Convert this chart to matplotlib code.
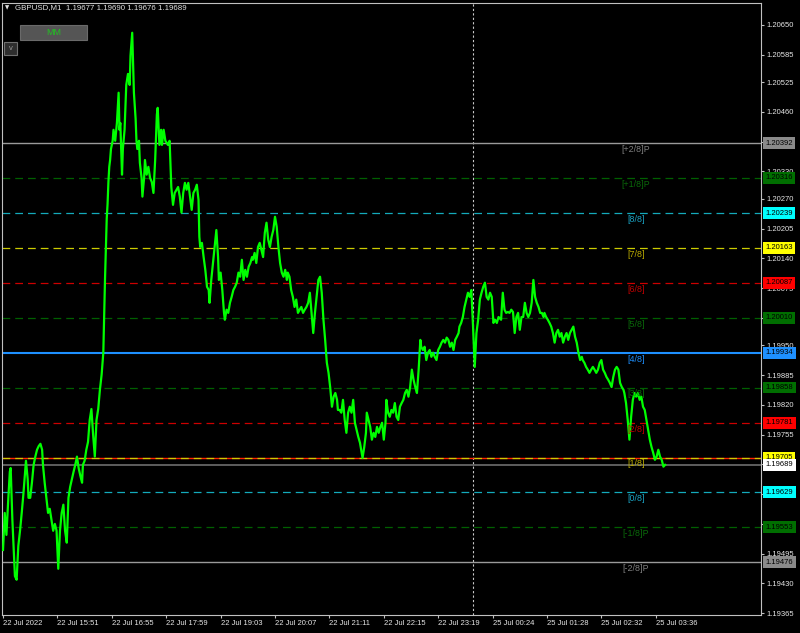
import matplotlib
matplotlib.use('Agg')
import matplotlib.pyplot as plt
from matplotlib.patches import Rectangle

plt.rcParams['font.family'] = ['Liberation Sans', 'DejaVu Sans']

# bar index (minutes since 22 Jul 14:47, weekend gap removed) and price
bar_min = [
    0, 1, 2, 4, 6, 8, 9, 11, 13, 14,
    16, 18, 20, 22, 24, 26, 27, 29, 30, 32,
    34, 36, 38, 40, 42, 44, 46, 47, 49, 51,
    53, 55, 57, 59, 61, 63, 65, 67, 69, 71,
    73, 75, 77, 79, 81, 83, 85, 87, 89, 91,
    93, 94, 96, 98, 100, 102, 104, 106, 108, 110,
    112, 114, 116, 118, 119, 120, 121, 122, 123, 124,
    125, 126, 127, 129, 130, 132, 134, 136, 137, 138,
    140, 141, 143, 145, 147, 149, 150, 152, 153, 154,
    156, 157, 158, 160, 161, 163, 164, 166, 167, 169,
    171, 173, 175, 177, 179, 181, 182, 184, 186, 187,
    189, 191, 194, 196, 198, 200, 202, 206, 208, 210,
    212, 214, 216, 218, 220, 222, 224, 226, 228, 230,
    231, 232, 234, 236, 238, 240, 242, 243, 245, 247,
    249, 251, 253, 254, 256, 258, 260, 261, 263, 265,
    267, 269, 271, 273, 275, 277, 279, 281, 283, 285,
    287, 289, 291, 293, 294, 296, 298, 300, 302, 304,
    306, 308, 310, 312, 314, 316, 318, 320, 322, 324,
    326, 328, 330, 332, 334, 335, 337, 339, 341, 343,
    345, 347, 349, 351, 353, 355, 357, 359, 361, 363,
    365, 367, 369, 371, 373, 375, 377, 379, 381, 383,
    385, 387, 389, 391, 393, 394, 396, 398, 400, 402,
    404, 406, 408, 410, 412, 414, 416, 418, 420, 422,
    423, 425, 427, 428, 430, 432, 434, 436, 438, 440,
    442, 444, 446, 448, 450, 451, 453, 455, 457, 459,
    461, 463, 465, 467, 469, 471, 473, 475, 477, 479,
    481, 483, 485, 487, 489, 491, 492, 494, 496, 498,
    500, 502, 504, 506, 508, 510, 512, 514, 516, 518,
    520, 522, 524, 526, 528, 530, 532, 534, 536, 537,
    539, 541, 543, 545, 547, 549, 551, 553, 555, 557,
    559, 561, 563, 565, 567, 569, 571, 573, 575, 577,
    579, 581, 583, 584, 586, 588, 590, 592, 594, 596,
    598, 600, 602, 604, 606, 608, 610, 612, 614, 616,
    618, 620, 622, 624, 626, 628, 630, 632, 634, 636,
    637, 639, 641, 643, 645, 647, 649, 651, 653, 655,
    657, 659, 661, 663, 665, 667, 669, 671, 673, 675,
    677, 679, 681, 682, 684, 686, 688, 690, 692, 694,
    696, 698, 700, 702, 704, 706, 708, 710, 712, 714,
    716, 718, 720, 722, 724, 726, 728, 730, 731, 733,
    735, 737, 739, 741, 743, 745, 747, 749, 751, 753,
    755, 757, 759, 761, 763, 765, 767, 769, 771, 773,
    775, 777, 779,
]
price = [
    1.19503, 1.19545, 1.19584, 1.19536, 1.19608, 1.19674, 1.19682, 1.19569, 1.19488, 1.19446,
    1.19438, 1.19512, 1.19545, 1.19584, 1.19626, 1.19674, 1.19698, 1.19658, 1.19617, 1.19617,
    1.19650, 1.19689, 1.19707, 1.19722, 1.19730, 1.19735, 1.19722, 1.19689, 1.19650, 1.19617,
    1.19584, 1.19593, 1.19569, 1.19545, 1.19560, 1.19545, 1.19462, 1.19545, 1.19584, 1.19602,
    1.19545, 1.19519, 1.19617, 1.19641, 1.19658, 1.19674, 1.19689, 1.19707, 1.19682, 1.19665,
    1.19650, 1.19689, 1.19698, 1.19722, 1.19739, 1.19787, 1.19811, 1.19755, 1.19707, 1.19787,
    1.19811, 1.19853, 1.19886, 1.19934, 1.20015, 1.20095, 1.20161, 1.20226, 1.20259, 1.20307,
    1.20340, 1.20355, 1.20379, 1.20397, 1.20421, 1.20397, 1.20436, 1.20502, 1.20421, 1.20436,
    1.20323, 1.20379, 1.20421, 1.20519, 1.20543, 1.20519, 1.20583, 1.20633, 1.20567, 1.20502,
    1.20445, 1.20397, 1.20379, 1.20397, 1.20349, 1.20316, 1.20275, 1.20316, 1.20355, 1.20323,
    1.20340, 1.20316, 1.20307, 1.20283, 1.20355, 1.20454, 1.20469, 1.20388, 1.20421, 1.20388,
    1.20421, 1.20397, 1.20388, 1.20397, 1.20296, 1.20257, 1.20283, 1.20296, 1.20275, 1.20240,
    1.20283, 1.20305, 1.20290, 1.20305, 1.20275, 1.20246, 1.20283, 1.20290, 1.20301, 1.20268,
    1.20187, 1.20165, 1.20174, 1.20143, 1.20115, 1.20078, 1.20071, 1.20043, 1.20093, 1.20130,
    1.20165, 1.20202, 1.20143, 1.20093, 1.20109, 1.20071, 1.20021, 1.20006, 1.20028, 1.20021,
    1.20043, 1.20056, 1.20071, 1.20078, 1.20087, 1.20109, 1.20100, 1.20137, 1.20093, 1.20115,
    1.20100, 1.20122, 1.20130, 1.20143, 1.20137, 1.20152, 1.20130, 1.20165, 1.20174, 1.20159,
    1.20143, 1.20196, 1.20218, 1.20181, 1.20165, 1.20187, 1.20202, 1.20231, 1.20209, 1.20165,
    1.20130, 1.20109, 1.20100, 1.20115, 1.20093, 1.20109, 1.20100, 1.20071, 1.20056, 1.20034,
    1.20050, 1.20021, 1.20028, 1.20034, 1.20021, 1.20028, 1.20034, 1.20043, 1.20065, 1.20021,
    1.19977, 1.20021, 1.20056, 1.20093, 1.20100, 1.20065, 1.20006, 1.19962, 1.19912, 1.19890,
    1.19857, 1.19816, 1.19838, 1.19846, 1.19831, 1.19809, 1.19809, 1.19803, 1.19831, 1.19787,
    1.19759, 1.19803, 1.19816, 1.19803, 1.19831, 1.19781, 1.19765, 1.19750, 1.19737, 1.19715,
    1.19704, 1.19728, 1.19759, 1.19803, 1.19787, 1.19772, 1.19744, 1.19759, 1.19750, 1.19772,
    1.19759, 1.19772, 1.19781, 1.19744, 1.19781, 1.19831, 1.19803, 1.19794, 1.19809, 1.19803,
    1.19824, 1.19794, 1.19787, 1.19816, 1.19824, 1.19831, 1.19846, 1.19853, 1.19838, 1.19859,
    1.19897, 1.19875, 1.19859, 1.19846, 1.19897, 1.19962, 1.19947, 1.19940, 1.19947, 1.19918,
    1.19934, 1.19940, 1.19925, 1.19934, 1.19925, 1.19918, 1.19940, 1.19947, 1.19956, 1.19962,
    1.19956, 1.19967, 1.19962, 1.19947, 1.19956, 1.19940, 1.19962, 1.19969, 1.19977, 1.19991,
    1.19999, 1.20012, 1.20034, 1.20050, 1.20065, 1.20056, 1.20071, 1.19991, 1.19903, 1.19977,
    1.20006, 1.20050, 1.20065, 1.20078, 1.20087, 1.20056, 1.20050, 1.20065, 1.20056, 1.19999,
    1.20006, 1.19999, 1.20012, 1.20010, 1.20006, 1.20065, 1.20028, 1.20021, 1.20023, 1.20021,
    1.20028, 1.20023, 1.19977, 1.20012, 1.20021, 1.19984, 1.20012, 1.20012, 1.20043, 1.20021,
    1.20012, 1.20021, 1.20043, 1.20093, 1.20056, 1.20043, 1.20034, 1.20021, 1.20021, 1.20012,
    1.20021, 1.20012, 1.20006, 1.19999, 1.19991, 1.19977, 1.19956, 1.19977, 1.19984, 1.19969,
    1.19977, 1.19956, 1.19969, 1.19977, 1.19962, 1.19977, 1.19984, 1.19991, 1.19969, 1.19956,
    1.19934, 1.19918, 1.19925, 1.19918, 1.19912, 1.19903, 1.19897, 1.19890, 1.19897, 1.19903,
    1.19897, 1.19890, 1.19897, 1.19912, 1.19918, 1.19897, 1.19890, 1.19881, 1.19875, 1.19868,
    1.19859, 1.19881, 1.19897, 1.19903, 1.19897, 1.19868, 1.19859, 1.19853, 1.19846, 1.19824,
    1.19787, 1.19744, 1.19794, 1.19831, 1.19846, 1.19838, 1.19846, 1.19831, 1.19838, 1.19816,
    1.19809, 1.19787, 1.19765, 1.19744, 1.19728, 1.19715, 1.19700, 1.19707, 1.19722, 1.19707,
    1.19700, 1.19685, 1.19689,
]

# Murrey math levels
levels = [1.20392, 1.20316, 1.20239, 1.20163, 1.20087, 1.20010, 1.19934,
          1.19858, 1.19781, 1.19705, 1.19629, 1.19553, 1.19476]
level_names = ['[+2/8]P', '[+1/8]P', '[8/8]', '[7/8]', '[6/8]', '[5/8]', '[4/8]',
               '[3/8]', '[2/8]', '[1/8]', '[0/8]', '[-1/8]P', '[-2/8]P']
level_kind = ['gray', 'green', 'cyan', 'yellow', 'red', 'green', 'blue',
              'green', 'red', 'yellow', 'cyan', 'green', 'gray']
bid = 1.19689
ask = 1.19705

y_ticks = [1.20650, 1.20585, 1.20525, 1.20460, 1.20395, 1.20330, 1.20270, 1.20205,
           1.20140, 1.20075, 1.20010, 1.19950, 1.19885, 1.19820, 1.19755, 1.19690,
           1.19625, 1.19560, 1.19495, 1.19430, 1.19365]
# tick labels fully covered by the level price boxes
y_hidden = [1.20395, 1.20010, 1.19690, 1.19625, 1.19560]
x_ticks = [0, 64, 128, 192, 256, 320, 384, 448, 512, 576, 640, 704, 768]
x_labels = ['22 Jul 2022', '22 Jul 15:51', '22 Jul 16:55', '22 Jul 17:59', '22 Jul 19:03',
            '22 Jul 20:07', '22 Jul 21:11', '22 Jul 22:15', '22 Jul 23:19', '25 Jul 00:24',
            '25 Jul 01:28', '25 Jul 02:32', '25 Jul 03:36']
day_sep = 553

line_col = {'gray': '#9a9a9a', 'green': '#006000', 'cyan': '#14aabb', 'yellow': '#cccc00',
            'red': '#cc0000', 'blue': '#1e90ff'}
text_col = {'gray': '#808080', 'green': '#0a6a0a', 'cyan': '#1aa4c4', 'yellow': '#bcac00',
            'red': '#c40000', 'blue': '#1e90ff'}
box_col = {'gray': '#8a8a8a', 'green': '#006e00', 'cyan': '#00ffff', 'yellow': '#ffff00',
           'red': '#ff0000', 'blue': '#1e90ff'}

W, H = 800, 633
fig = plt.figure(figsize=(W / 100, H / 100), dpi=100, facecolor='black')
ax = fig.add_axes([2 / W, 1 - 615 / H, 759 / W, 612 / H], facecolor='black')
ax.set_xlim(-1.2, 891.8)
ax.set_ylim(1.19361, 1.20698)

for s in ax.spines.values():
    s.set_color('#c0c0c0')
    s.set_linewidth(0.8)

# levels
for lv, name, kind in zip(levels, level_names, level_kind):
    if kind in ('gray', 'blue'):
        ax.axhline(lv, color=line_col[kind], lw=1.5 if kind == 'blue' else 1.0, zorder=2)
    else:
        if lv == ask:
            ax.axhline(ask, color='#ff2000', lw=1.0, zorder=2)
        ax.axhline(lv, color=line_col[kind], lw=0.9, ls=(0, (6.2, 4)), zorder=2.1)
    ax.annotate(name, xy=(0.835, lv), xycoords=('axes fraction', 'data'),
                xytext=(0, -4.6), textcoords='offset points', ha='center', va='center',
                fontsize=6.4, color=text_col[kind], zorder=4)
    ax.annotate('%.5f' % lv, xy=(1, lv), xycoords=('axes fraction', 'data'),
                xytext=(3.2, 0), textcoords='offset points', ha='left', va='center',
                fontsize=5.5, color='black', annotation_clip=False, zorder=6,
                bbox=dict(boxstyle='square,pad=0.32', fc=box_col[kind], ec='none'))

ax.axhline(bid, color='#6e6e6e', lw=1.2, zorder=2)
ax.annotate('%.5f' % bid, xy=(1, bid), xycoords=('axes fraction', 'data'),
            xytext=(3.2, 0), textcoords='offset points', ha='left', va='center',
            fontsize=5.5, color='black', annotation_clip=False, zorder=7,
            bbox=dict(boxstyle='square,pad=0.32', fc='white', ec='none'))

ax.axvline(day_sep, color='#c8c8c8', lw=0.8, ls=(0, (2, 2)), zorder=1)

ax.plot(bar_min, price, color='#00ff00', lw=1.6, zorder=3)

# axes ticks
ax.yaxis.tick_right()
ax.set_yticks(y_ticks)
ax.set_yticklabels(['' if v in y_hidden else '%.5f' % v for v in y_ticks])
ax.set_xticks(x_ticks)
ax.set_xticklabels(x_labels)
for lbl in ax.get_xticklabels():
    lbl.set_ha('left')
ax.tick_params(axis='both', colors='#c0c0c0', labelcolor='#e6e6e6', length=2.2,
               width=0.8, pad=1.6, labelsize=5.5)

# header and buttons
fig.text(5 / W, 1 - 8 / H, '\u25bc', fontsize=4, color='#e0e0e0', va='center',
         family=['DejaVu Sans'])
fig.text(15 / W, 1 - 8 / H, 'GBPUSD,M1  1.19677 1.19690 1.19676 1.19689', fontsize=5.7,
         color='#e0e0e0', va='center')
fig.add_artist(Rectangle((20 / W, 1 - 40 / H), 67 / W, 15 / H, transform=fig.transFigure,
                         fc='#555555', ec='#6a6a6a', lw=0.8))
fig.text(53.5 / W, 1 - 32.5 / H, 'MM', fontsize=6.5, color='#22c022', ha='center', va='center')
fig.add_artist(Rectangle((4 / W, 1 - 55 / H), 13 / W, 13 / H, transform=fig.transFigure,
                         fc='#2e2e2e', ec='#707070', lw=0.8))
fig.text(10.5 / W, 1 - 48.5 / H, 'v', fontsize=5.5, color='#9a9a9a', ha='center', va='center')

fig.savefig('out.png', dpi=100, facecolor='black')
